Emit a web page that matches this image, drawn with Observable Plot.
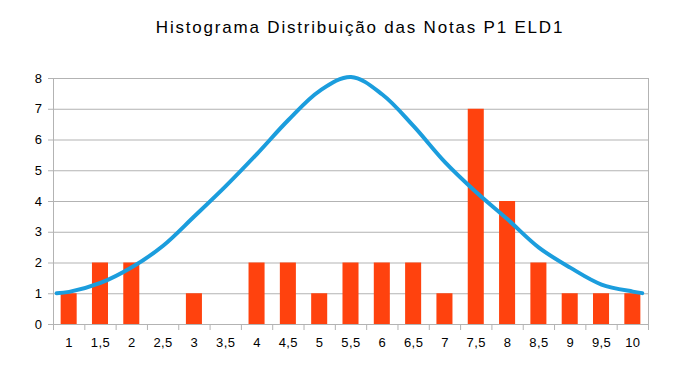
<!DOCTYPE html>
<html>
<head>
<meta charset="utf-8">
<script src="https://cdn.jsdelivr.net/npm/d3@7"></script>
<script src="https://cdn.jsdelivr.net/npm/@observablehq/plot@0.6"></script>
<style>
  html, body { margin: 0; padding: 0; background: #fff; }
  #wrap { position: relative; width: 692px; height: 376px; }
  #title { position: absolute; left: 0; width: 720px; top: 18px; text-align: center;
           font-family: "Liberation Sans", Arial, sans-serif; font-size: 17px; letter-spacing: 1.8px; color: #000; }
  #wrap svg text { letter-spacing: 0.4px; }
</style>
</head>
<body>
<div id="wrap"><div id="title">Histograma Distribuição das Notas P1 ELD1</div></div>
<script>
const notas = [1, 1.5, 2, 2.5, 3, 3.5, 4, 4.5, 5, 5.5, 6, 6.5, 7, 7.5, 8, 8.5, 9, 9.5, 10];
const frequencias = [1, 2, 2, 0, 1, 0, 2, 2, 1, 2, 2, 2, 1, 7, 4, 2, 1, 1, 1];
const curvaX = [0.8, 1, 1.5, 2, 2.5, 3, 3.5, 4, 4.5, 5, 5.5, 6, 6.5, 7, 7.5, 8, 8.5, 9, 9.5, 10, 10.15];
const curvaY = [1.02, 1.06, 1.35, 1.86, 2.56, 3.52, 4.5, 5.55, 6.65, 7.6, 8.05, 7.48, 6.45, 5.28, 4.3, 3.42, 2.5, 1.85, 1.3, 1.07, 1.02];
const yTicks = [0, 1, 2, 3, 4, 5, 6, 7, 8];

const half = 0.25;     // half category width
const barHalf = 0.128; // half bar width
const bars = notas.map((n, i) => ({nota: n, freq: frequencias[i]}));
const curva = curvaX.map((x, i) => ({x, y: curvaY[i]}));
const bounds = notas.map(n => n - half).concat([notas[notas.length - 1] + half]);
const fmt = d => String(d).replace(".", ",");

const chart = Plot.plot({
  width: 692,
  height: 376,
  marginLeft: 53,
  marginRight: 44,
  marginTop: 78,
  marginBottom: 52,
  style: {fontFamily: "'Liberation Sans', Arial, sans-serif", fontSize: "13px", color: "#000", background: "#fff"},
  x: {type: "linear", domain: [notas[0] - half, notas[notas.length - 1] + half]},
  y: {domain: [0, 8]},
  marks: [
    Plot.ruleY(yTicks.slice(1), {stroke: "#b3b3b3", strokeOpacity: 1, x1: notas[0] - half, x2: notas[notas.length - 1] + half}),
    Plot.rectY(bars, {x1: d => d.nota - barHalf, x2: d => d.nota + barHalf, y1: 0, y2: "freq", fill: "#ff420e"}),
    Plot.ruleX([notas[0] - half, notas[notas.length - 1] + half], {stroke: "#b3b3b3", strokeOpacity: 1}),
    Plot.ruleY([0], {stroke: "#b3b3b3", strokeOpacity: 1}),
    Plot.axisY({ticks: yTicks, tickSize: 5, tickPadding: 6, stroke: "#b3b3b3", label: null, tickFormat: d => d, fontSize: 13}),
    Plot.axisX({ticks: bounds, tickSize: 6, stroke: "#b3b3b3", tickFormat: () => "", label: null}),
    Plot.axisX({ticks: notas, tickSize: 0, tickPadding: 13, tickFormat: fmt, label: null, fontSize: 13}),
    Plot.line(curva, {x: "x", y: "y", stroke: "#1b9ddd", strokeWidth: 4, curve: "catmull-rom"})
  ]
});
document.getElementById("wrap").appendChild(chart);
</script>
</body>
</html>
